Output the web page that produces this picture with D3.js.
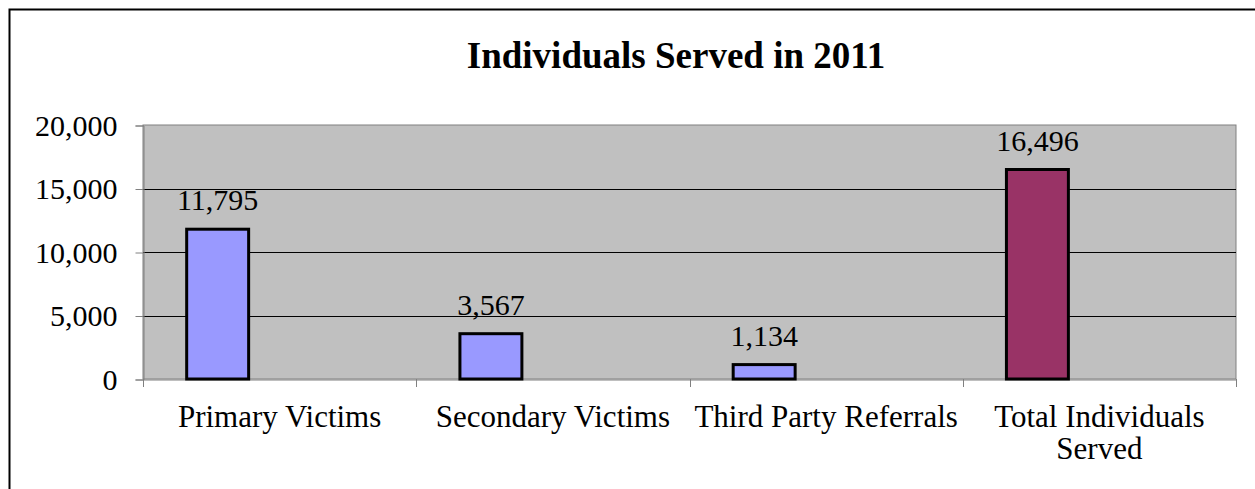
<!DOCTYPE html>
<html>
<head>
<meta charset="utf-8">
<script src="https://cdn.jsdelivr.net/npm/d3@7"></script>
<style>
  body { margin: 0; background: #fff; }
  svg { display: block; font-family: "Liberation Serif", "Times New Roman", serif; }
</style>
</head>
<body>
<div id="chart"></div>
<script>
// data ---------------------------------------------------------------------------------------
const categories = ['Primary Victims', 'Secondary Victims', 'Third Party Referrals', 'Total Individuals Served'];
const values = [11795, 3567, 1134, 16496];
const barColors = ['#9999ff', '#9999ff', '#9999ff', '#993366'];
const yTicks = [0, 5000, 10000, 15000, 20000];
const chartTitle = 'Individuals Served in 2011';
// --------------------------------------------------------------------------------------------
const width = 1255;
const height = 489;
const plot = {left: 143, top: 125, right: 1236, bottom: 379};

const svg = d3.select('#chart').append('svg')
  .attr('width', width)
  .attr('height', height);

// outer frame
svg.append('rect')
  .attr('x', 9.5).attr('y', 9.5)
  .attr('width', width + 20).attr('height', height + 20)
  .attr('fill', 'none')
  .attr('stroke', '#000')
  .attr('stroke-width', 2);

// title
svg.append('text')
  .attr('x', 676).attr('y', 68)
  .attr('text-anchor', 'middle')
  .attr('font-size', '37px')
  .attr('font-weight', 'bold')
  .text(chartTitle);

// scales --------------------------------------------------------------------------------------
const x0 = d3.scaleBand().domain(categories).range([plot.left, plot.right]).padding(0);
// excel clustered layout: 3 slots per category, only the first carries a bar
const x1 = d3.scaleBand().domain([0, 1, 2]).range([0, x0.bandwidth()]).paddingOuter(0.705).paddingInner(0);
const y = d3.scaleLinear().domain([0, 20000]).range([plot.bottom, plot.top]);

// plot area
svg.append('rect')
  .attr('x', plot.left).attr('y', plot.top)
  .attr('width', plot.right - plot.left).attr('height', plot.bottom - plot.top)
  .attr('fill', '#c0c0c0')
  .attr('stroke', '#808080')
  .attr('stroke-width', 1);

// gridlines
svg.append('g')
  .selectAll('line')
  .data(yTicks.filter(d => d > 0 && d < 20000))
  .enter().append('line')
  .attr('x1', plot.left).attr('x2', plot.right)
  .attr('y1', d => Math.round(y(d)) + 0.5).attr('y2', d => Math.round(y(d)) + 0.5)
  .attr('stroke', '#000')
  .attr('stroke-width', 1);

// y axis
const yAxis = svg.append('g')
  .attr('transform', 'translate(' + (plot.left + 0.5) + ',0.5)')
  .call(d3.axisLeft(y).tickValues(yTicks).tickSize(8).tickPadding(18).tickFormat(d3.format(',')));
yAxis.selectAll('text').attr('font-size', '30px').attr('fill', '#000').attr('font-family', 'Liberation Serif');
yAxis.selectAll('line').attr('stroke', '#808080');
yAxis.select('.domain').attr('stroke', '#808080');

// x axis
const xAxis = svg.append('g')
  .attr('transform', 'translate(0.5,' + (plot.bottom + 0.5) + ')')
  .call(d3.axisBottom(x0).tickSize(0).tickFormat(''));
xAxis.select('.domain').attr('stroke', '#808080');
svg.append('g')
  .selectAll('line')
  .data(categories.map((c, i) => i).concat([categories.length]))
  .enter().append('line')
  .attr('x1', i => Math.round(plot.left + i * x0.step()) + 0.5)
  .attr('x2', i => Math.round(plot.left + i * x0.step()) + 0.5)
  .attr('y1', plot.bottom).attr('y2', plot.bottom + 8)
  .attr('stroke', '#808080');

// category labels
const catText = svg.append('g')
  .selectAll('text')
  .data(categories)
  .enter().append('text')
  .attr('x', d => x0(d) + x0.bandwidth() / 2)
  .attr('y', 427)
  .attr('text-anchor', 'middle')
  .attr('font-size', '31px');
catText.each(function (d) {
  const lines = d === 'Total Individuals Served' ? ['Total Individuals', 'Served'] : [d];
  const t = d3.select(this);
  lines.forEach((l, i) => {
    t.append('tspan').attr('x', x0(d) + x0.bandwidth() / 2).attr('dy', i === 0 ? 0 : 32).text(l);
  });
});

// bars
svg.append('g')
  .selectAll('rect')
  .data(categories)
  .enter().append('rect')
  .attr('x', d => x0(d) + x1(0))
  .attr('y', (d, i) => y(values[i]))
  .attr('width', x1.bandwidth())
  .attr('height', (d, i) => plot.bottom - y(values[i]))
  .attr('fill', (d, i) => barColors[i])
  .attr('stroke', '#000')
  .attr('stroke-width', 3);

// value labels
svg.append('g')
  .selectAll('text')
  .data(categories)
  .enter().append('text')
  .attr('x', d => x0(d) + x1(0) + x1.bandwidth() / 2)
  .attr('y', (d, i) => y(values[i]) - 19)
  .attr('text-anchor', 'middle')
  .attr('font-size', '30px')
  .text((d, i) => d3.format(',')(values[i]));
</script>
</body>
</html>
